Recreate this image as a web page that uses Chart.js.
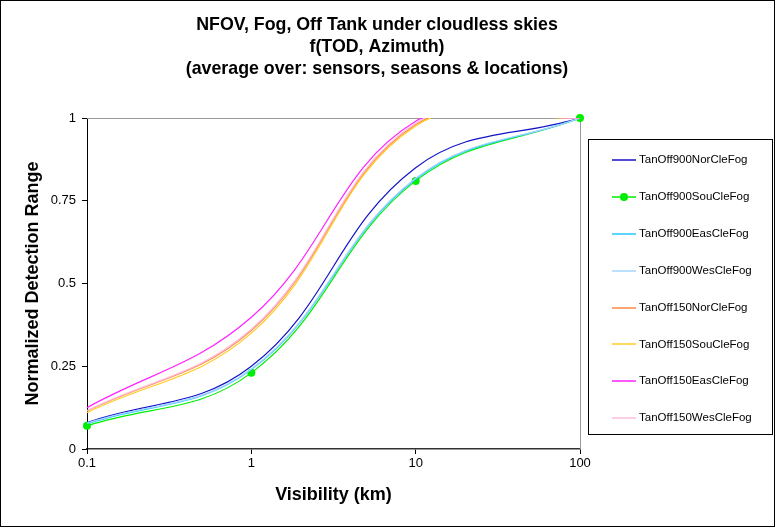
<!DOCTYPE html>
<html>
<head>
<meta charset="utf-8">
<script src="https://cdn.jsdelivr.net/npm/chart.js@4"></script>
<style>
  body { margin: 0; background: #fff; }
  #wrap { position: relative; width: 775px; height: 527px; }
  #legend {
    position: absolute; left: 588px; top: 139px; width: 185px; height: 296px;
    border: 1px solid #000; box-sizing: border-box;
    font-family: "Liberation Sans", Arial, sans-serif; font-size: 11.5px; color: #000;
  }
  .item { position: absolute; left: 23px; height: 14px; line-height: 14px; white-space: nowrap; }
  .item canvas { vertical-align: middle; margin-right: 3px; }
</style>
</head>
<body>
<div id="wrap">
  <canvas id="myChart" width="775" height="527"></canvas>
  <div id="legend"></div>
</div>
<script>
// visibility in km
let visibility = [0.1, 1, 10, 100];

let seriesNames = [
  'TanOff900NorCleFog', 'TanOff900SouCleFog', 'TanOff900EasCleFog', 'TanOff900WesCleFog',
  'TanOff150NorCleFog', 'TanOff150SouCleFog', 'TanOff150EasCleFog', 'TanOff150WesCleFog'
];

let tanOff900Nor = [0.080, 0.250, 0.850, 1.0];
let tanOff900Sou = [0.070, 0.230, 0.810, 1.0];
let tanOff900Eas = [0.076, 0.240, 0.815, 1.0];
let tanOff900Wes = [0.078, 0.242, 0.818, 1.0];
let tanOff150Nor = [0.115, 0.358, 0.980, 1.0];
let tanOff150Sou = [0.110, 0.350, 0.976, 1.0];
let tanOff150Eas = [0.125, 0.398, 0.990, 1.0];
let tanOff150Wes = [0.116, 0.362, 0.984, 1.0];

let seriesValues = [tanOff900Nor, tanOff900Sou, tanOff900Eas, tanOff900Wes,
                    tanOff150Nor, tanOff150Sou, tanOff150Eas, tanOff150Wes];

let seriesColors = ['#1414c8', '#00ee00', '#20c8ff', '#a8d4ff',
                    '#ff8844', '#ffcc22', '#ff22ff', '#ffbbdd'];

let xTicks = [0.1, 1, 10, 100];
let yTickLabels = ['0', '0.25', '0.5', '0.75', '1'];
let titleLines = ['NFOV, Fog, Off Tank under cloudless skies', 'f(TOD, Azimuth)',
                  '(average over: sensors, seasons & locations)'];

const FONT = '"Liberation Sans", Arial, sans-serif';

let datasets = [];
for (let i = 0; i < seriesNames.length; i++) {
  let pts = [];
  for (let j = 0; j < visibility.length; j++) {
    pts.push({ x: visibility[j], y: seriesValues[i][j] });
  }
  let hasMarker = i === 1;
  datasets.push({
    label: seriesNames[i],
    data: pts,
    borderColor: seriesColors[i],
    backgroundColor: seriesColors[i],
    borderWidth: 1.2,
    tension: 0.4,
    clip: hasMarker ? false : undefined,
    pointRadius: hasMarker ? 4 : 0,
    pointBorderWidth: 0,
    pointBackgroundColor: seriesColors[i]
  });
}
// draw series in reverse so the 900 series sit on top like the original
datasets.reverse();

const framePlugin = {
  id: 'frame',
  beforeDatasetsDraw(chart) {
    let ctx = chart.ctx, a = chart.chartArea;
    ctx.save();
    ctx.strokeStyle = '#999';
    ctx.lineWidth = 1;
    ctx.beginPath();
    ctx.moveTo(a.left, Math.round(a.top) + 0.5);
    ctx.lineTo(Math.round(a.right) + 0.5, Math.round(a.top) + 0.5);
    ctx.lineTo(Math.round(a.right) + 0.5, a.bottom);
    ctx.stroke();
    ctx.restore();
  },
  afterDraw(chart) {
    let ctx = chart.ctx;
    ctx.save();
    ctx.strokeStyle = '#000';
    ctx.lineWidth = 1;
    ctx.strokeRect(0.5, 0.5, chart.width - 1, chart.height - 1);
    ctx.fillStyle = '#000';
    ctx.font = 'bold 17.8px ' + FONT;
    ctx.textAlign = 'center';
    ctx.textBaseline = 'middle';
    for (let i = 0; i < titleLines.length; i++) {
      ctx.fillText(titleLines[i], 377, 25 + i * 22);
    }
    ctx.restore();
  }
};

var ctx = document.getElementById('myChart').getContext('2d');
var myChart = new Chart(ctx, {
  type: 'line',
  data: { datasets: datasets },
  plugins: [framePlugin],
  options: {
    responsive: false,
    animation: false,
    layout: { padding: { top: 118, right: 195, left: 0, bottom: 0 } },
    elements: { line: { capBezierPoints: false } },
    plugins: { legend: { display: false }, tooltip: { enabled: false } },
    scales: {
      x: {
        type: 'logarithmic',
        min: 0.1,
        max: 100,
        afterBuildTicks: s => { s.ticks = xTicks.map(v => ({ value: v })); },
        afterFit: s => { s.height = 78; },
        ticks: {
          color: '#000', font: { family: FONT, size: 13 }, padding: 2,
          maxRotation: 0, autoSkip: false,
          callback: v => String(v)
        },
        grid: { drawOnChartArea: false, drawTicks: true, tickLength: 5, color: '#000' },
        border: { color: '#333', width: 1.5 },
        title: {
          display: true, text: 'Visibility (km)', color: '#000',
          font: { family: FONT, size: 18, weight: 'bold' },
          padding: { top: 0, bottom: 21 }
        }
      },
      y: {
        min: 0,
        max: 1,
        afterFit: s => { s.width = 87; },
        ticks: {
          stepSize: 0.25, color: '#000', font: { family: FONT, size: 13 }, padding: 6,
          callback: (v, i) => yTickLabels[i]
        },
        grid: { drawOnChartArea: false, drawTicks: true, tickLength: 5, color: '#000' },
        border: { color: '#000', width: 1 },
        title: {
          display: true, text: 'Normalized Detection Range', color: '#000',
          font: { family: FONT, size: 18, weight: 'bold' },
          padding: { top: 22, bottom: 0 }
        }
      }
    }
  }
});

// legend built from the same arrays
let legend = document.getElementById('legend');
for (let i = 0; i < seriesNames.length; i++) {
  let item = document.createElement('div');
  item.className = 'item';
  item.style.top = (19 + i * 36.9 - 7) + 'px';
  let c = document.createElement('canvas');
  c.width = 24; c.height = 10;
  let g = c.getContext('2d');
  g.strokeStyle = seriesColors[i];
  g.lineWidth = 1.5;
  g.beginPath(); g.moveTo(0, 5); g.lineTo(24, 5); g.stroke();
  if (i === 1) {
    g.fillStyle = seriesColors[i];
    g.beginPath(); g.arc(12, 5, 4, 0, Math.PI * 2); g.fill();
  }
  item.appendChild(c);
  item.appendChild(document.createTextNode(seriesNames[i]));
  legend.appendChild(item);
}
</script>
</body>
</html>
